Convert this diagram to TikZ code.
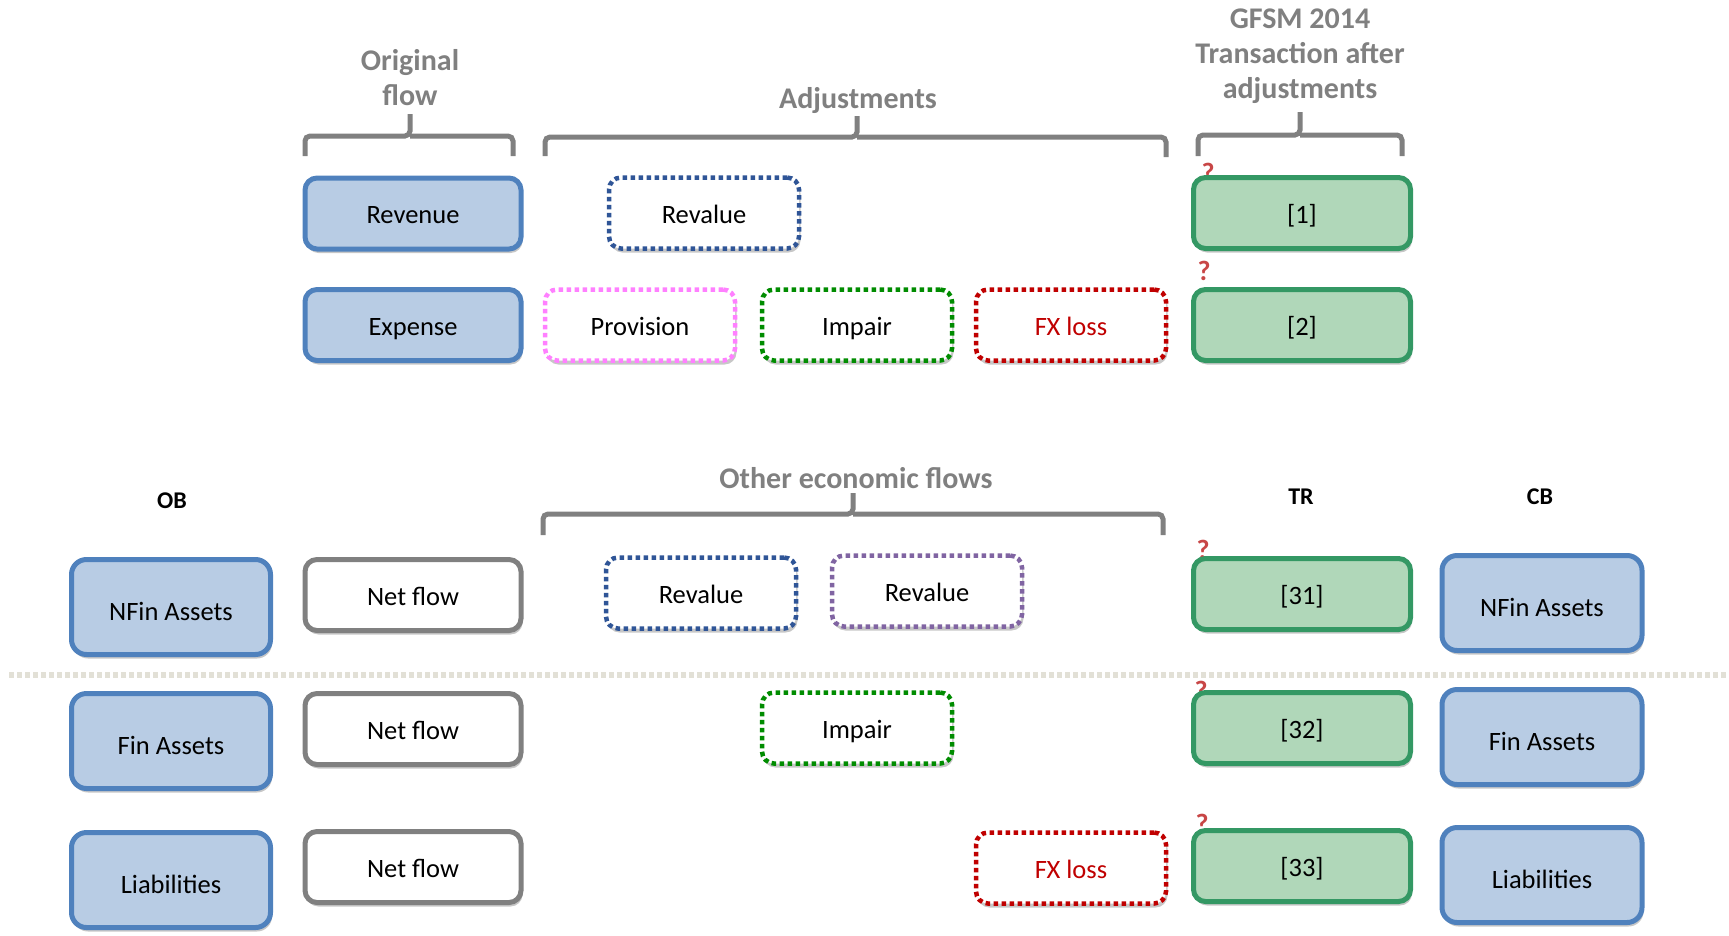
\documentclass[tikz,border=0pt]{standalone}
\usepackage{fontspec}
\setmainfont{Carlito}
\usetikzlibrary{shadows}
\definecolor{bfill}{RGB}{184,204,228}
\definecolor{bline}{RGB}{79,129,189}
\definecolor{gfill}{RGB}{176,215,185}
\definecolor{gline}{RGB}{52,152,100}
\definecolor{graybox}{RGB}{128,128,128}
\definecolor{dblue}{RGB}{47,85,151}
\definecolor{dpink}{RGB}{255,128,255}
\definecolor{dgreen}{RGB}{0,140,0}
\definecolor{dred}{RGB}{192,0,0}
\definecolor{dpurple}{RGB}{128,100,162}
\definecolor{qred}{RGB}{200,70,70}
\definecolor{sepcol}{RGB}{226,224,214}
\definecolor{headgray}{RGB}{128,128,128}
\begin{document}
\begin{tikzpicture}[x=1pt,y=-1pt,
  box/.style={rounded corners=12pt, line width=5pt, inner sep=0pt, align=center,
    font=\fontsize{26.5}{31}\selectfont, text height=20pt, text depth=0pt,
    drop shadow={shadow xshift=1.5pt, shadow yshift=-4pt, opacity=0.22, fill=black}},
  flowbox/.style={box, draw=bline, fill=bfill, minimum width=216pt, minimum height=71pt},
  stockbox/.style={box, draw=bline, fill=bfill, minimum width=199pt, minimum height=95pt, rounded corners=15pt, text height=26pt},
  netbox/.style={box, draw=graybox, fill=white, minimum width=216pt, minimum height=71pt},
  trbox/.style={box, draw=gline, fill=gfill, minimum width=217pt, minimum height=71pt},
  dotbox/.style={box, fill=white, minimum width=190pt, minimum height=71pt, line width=4.5pt, dash pattern=on 4.5pt off 3.5pt},
  head/.style={font=\fontsize{30}{35}\selectfont\bfseries, text=headgray, align=center, inner sep=0pt},
  colhead/.style={font=\fontsize{24}{29}\selectfont\bfseries, text=black, inner sep=0pt},
  brace/.style={draw=headgray, line width=5pt, rounded corners=5pt},
  qmark/.style={font=\fontsize{28}{32}\selectfont\bfseries, text=qred, inner sep=0pt}
]
\useasboundingbox (0,0) rectangle (1729,935);

% headers
\node[head] (hof) at (410,77.5) {Original\\flow};
\node[head] (hadj) at (858,101) {Adjustments};
\node[head] (hgf) at (1300,56) {GFSM 2014\\Transaction after\\adjustments};
\node[head] (hoef) at (856,478) {Other economic flows};
\node[colhead] (ob) at (172,501) {OB};
\node[colhead] (tr) at (1301,497) {TR};
\node[colhead] (cb) at (1540,497) {CB};

% braces
\draw[brace] (305,156) -- (305,136) -- (410,136) -- (410,114);
\draw[brace] (410,136) -- (513,136) -- (513,156);
\draw[brace] (545,156) -- (545,137) -- (857,137) -- (857,116);
\draw[brace] (857,137) -- (1166,137) -- (1166,157);
\draw[brace] (1198,156) -- (1198,135) -- (1300,135) -- (1300,112);
\draw[brace] (1300,135) -- (1402,135) -- (1402,156);
\draw[brace] (543,535) -- (543,514) -- (853,514) -- (853,493);
\draw[brace] (853,514) -- (1163,514) -- (1163,535);

% separator
\coordinate (sepL) at (9,675);
\coordinate (sepR) at (1729,675);
\draw[sepcol, line width=6pt, dash pattern=on 5pt off 3pt] (sepL) -- (sepR);

% question marks (behind boxes)
\node[qmark] (q1) at (1208,173) {?};
\node[qmark] (q2) at (1204,271) {?};
\node[qmark] (q31) at (1203,550) {?};
\node[qmark] (q32) at (1201,691) {?};
\node[qmark] (q33) at (1202,824) {?};

% top section
\node[flowbox] (rev) at (413,213.5) {Revenue};
\node[flowbox] (exp) at (413,325) {Expense};
\node[dotbox, draw=dblue] (adjrev) at (704,213) {Revalue};
\node[dotbox, draw=dpink] (prov) at (640,325) {Provision};
\node[dotbox, draw=dgreen] (imp1) at (857,325) {Impair};
\node[dotbox, draw=dred, text=dred] (fx1) at (1071,325) {FX loss};
\node[trbox] (t1) at (1302,213) {[1]};
\node[trbox] (t2) at (1302,325) {[2]};

% bottom section
\node[stockbox] (obn) at (171,607) {NFin Assets};
\node[stockbox] (obf) at (171,741) {Fin Assets};
\node[stockbox] (obl) at (171,880) {Liabilities};
\node[netbox] (nf1) at (413,595) {Net flow};
\node[netbox] (nf2) at (413,729) {Net flow};
\node[netbox] (nf3) at (413,867) {Net flow};
\node[dotbox, draw=dblue] (rv2) at (701,593) {Revalue};
\node[dotbox, draw=dpurple] (rv3) at (927,591) {Revalue};
\node[dotbox, draw=dgreen] (imp2) at (857,728) {Impair};
\node[dotbox, draw=dred, text=dred] (fx2) at (1071,868) {FX loss};
\node[trbox] (t31) at (1302,594) {[31]};
\node[trbox] (t32) at (1302,728) {[32]};
\node[trbox] (t33) at (1302,866) {[33]};
\node[stockbox, minimum width=200pt] (cbn) at (1542,603) {NFin Assets};
\node[stockbox, minimum width=200pt] (cbf) at (1542,737) {Fin Assets};
\node[stockbox, minimum width=200pt] (cbl) at (1542,875) {Liabilities};
\end{tikzpicture}
\end{document}
